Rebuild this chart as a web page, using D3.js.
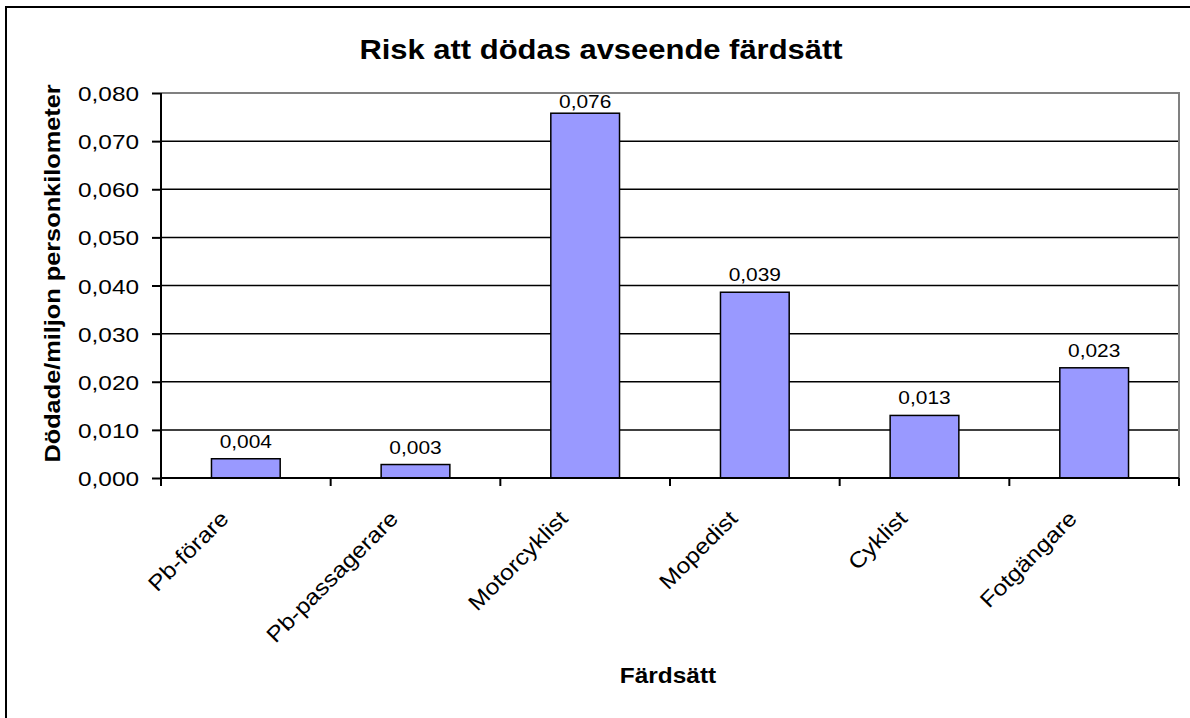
<!DOCTYPE html>
<html>
<head>
<meta charset="utf-8">
<script src="https://cdn.jsdelivr.net/npm/d3@7"></script>
<style>
  body { margin: 0; background: #fff; }
  text { font-family: "Liberation Sans", Arial, sans-serif; fill: #000; }
</style>
</head>
<body>
<svg id="chart" width="1190" height="718"></svg>
<script>
// data
var categories = ['Pb-förare', 'Pb-passagerare', 'Motorcyklist', 'Mopedist', 'Cyklist', 'Fotgängare'];
var risk = [0.0040, 0.0028, 0.0758, 0.0386, 0.0130, 0.0229];
var y_ticks = [0, 0.01, 0.02, 0.03, 0.04, 0.05, 0.06, 0.07, 0.08];
var title = 'Risk att dödas avseende färdsätt';
var x_title = 'Färdsätt';
var y_title = 'Dödade/miljon personkilometer';

var data = categories.map((c, i) => ({cat: c, val: risk[i]}));

var svg = d3.select('#chart');
var plot = {left: 161, right: 1179, top: 93, bottom: 478};

var sv = d3.formatLocale({decimal: ',', thousands: ' ', grouping: [3], currency: ['', ' kr']});
var fmt = sv.format('.3f');

// Excel draws the text a bit wider than the font would
function stretch(sel, k) {
	sel.each(function() {
		var w = this.getComputedTextLength();
		d3.select(this).attr('textLength', w * k).attr('lengthAdjust', 'spacingAndGlyphs');
	});
}

// outer chart border
svg.append('rect')
	.attr('x', 6).attr('y', 7)
	.attr('width', 1200).attr('height', 730)
	.attr('fill', 'none')
	.attr('stroke', '#000')
	.attr('stroke-width', 2);

var x = d3.scaleBand().domain(categories).range([plot.left, plot.right]).padding(0);
var y = d3.scaleLinear().domain([0, 0.08]).range([plot.bottom, plot.top]);

// gridlines
svg.append('g').selectAll('line').data(y_ticks.filter(d => d > 0 && d < 0.08)).enter().append('line')
	.attr('x1', plot.left).attr('x2', plot.right)
	.attr('y1', d => y(d)).attr('y2', d => y(d))
	.attr('stroke', '#000')
	.attr('stroke-width', 1.5);

// plot border top / right in gray
svg.append('path')
	.attr('d', d3.line()([[plot.left, plot.top], [plot.right, plot.top], [plot.right, plot.bottom]]))
	.attr('fill', 'none')
	.attr('stroke', '#808080')
	.attr('stroke-width', 2);

// bars
var bar_w = x.bandwidth() * 0.405;
svg.append('g').selectAll('rect').data(data).enter().append('rect')
	.attr('x', d => x(d.cat) + (x.bandwidth() - bar_w) / 2)
	.attr('y', d => y(d.val))
	.attr('width', bar_w)
	.attr('height', d => y(0) - y(d.val))
	.attr('fill', '#9999ff')
	.attr('stroke', '#000')
	.attr('stroke-width', 1.5);

// y axis
var y_axis = svg.append('g')
	.attr('transform', 'translate(' + plot.left + ',0)')
	.call(d3.axisLeft(y).tickValues(y_ticks).tickFormat(fmt).tickSizeInner(9).tickSizeOuter(0).tickPadding(13));
y_axis.select('.domain').attr('stroke', '#000').attr('stroke-width', 2)
	.attr('d', 'M0,' + plot.top + 'V' + (plot.bottom + 8));
y_axis.selectAll('.tick line').attr('stroke', '#000').attr('stroke-width', 2);
y_axis.selectAll('.tick text')
	.attr('font-size', 21)
	.attr('font-family', '"Liberation Sans", Arial, sans-serif')
	.attr('fill', '#000')
	.attr('dy', '0.36em')
	.call(stretch, 1.16);

// x axis
var x_axis = svg.append('g')
	.attr('transform', 'translate(0,' + plot.bottom + ')')
	.call(d3.axisBottom(x).tickSize(0).tickFormat(''));
x_axis.select('.domain').attr('stroke', '#000').attr('stroke-width', 2)
	.attr('d', 'M' + plot.left + ',0H' + plot.right);
x_axis.selectAll('.tick').remove();

var bounds = [plot.left].concat(categories.map(c => x(c) + x.bandwidth()));
svg.append('g').selectAll('line').data(bounds).enter().append('line')
	.attr('x1', d => d).attr('x2', d => d)
	.attr('y1', plot.bottom).attr('y2', plot.bottom + 8)
	.attr('stroke', '#000')
	.attr('stroke-width', 2);

// category labels, rotated
svg.append('g').selectAll('text').data(categories).enter().append('text')
	.attr('transform', d => 'translate(' + (x(d) + x.bandwidth() / 2 - 16) + ',' + (plot.bottom + 42) + ') rotate(-45)')
	.attr('text-anchor', 'end')
	.attr('font-size', 22)
	.text(d => d)
	.call(stretch, 1.12);

// value labels, kept inside the plot area
svg.append('g').selectAll('text').data(data).enter().append('text')
	.attr('x', d => x(d.cat) + x.bandwidth() / 2)
	.attr('y', d => Math.max(y(d.val) - 11, plot.top + 15))
	.attr('text-anchor', 'middle')
	.attr('font-size', 19)
	.text(d => fmt(d.val))
	.call(stretch, 1.1);

// titles
svg.append('text')
	.attr('x', 601).attr('y', 59)
	.attr('text-anchor', 'middle')
	.attr('font-size', 28)
	.attr('font-weight', 'bold')
	.text(title)
	.call(stretch, 1.105);

svg.append('text')
	.attr('x', (plot.left + plot.right) / 2 - 2).attr('y', 683)
	.attr('text-anchor', 'middle')
	.attr('font-size', 22)
	.attr('font-weight', 'bold')
	.text(x_title)
	.call(stretch, 1.11);

svg.append('text')
	.attr('transform', 'translate(60,' + ((plot.top + plot.bottom) / 2 - 12) + ') rotate(-90)')
	.attr('text-anchor', 'middle')
	.attr('font-size', 22)
	.attr('font-weight', 'bold')
	.text(y_title)
	.call(stretch, 1.15);
</script>
</body>
</html>
